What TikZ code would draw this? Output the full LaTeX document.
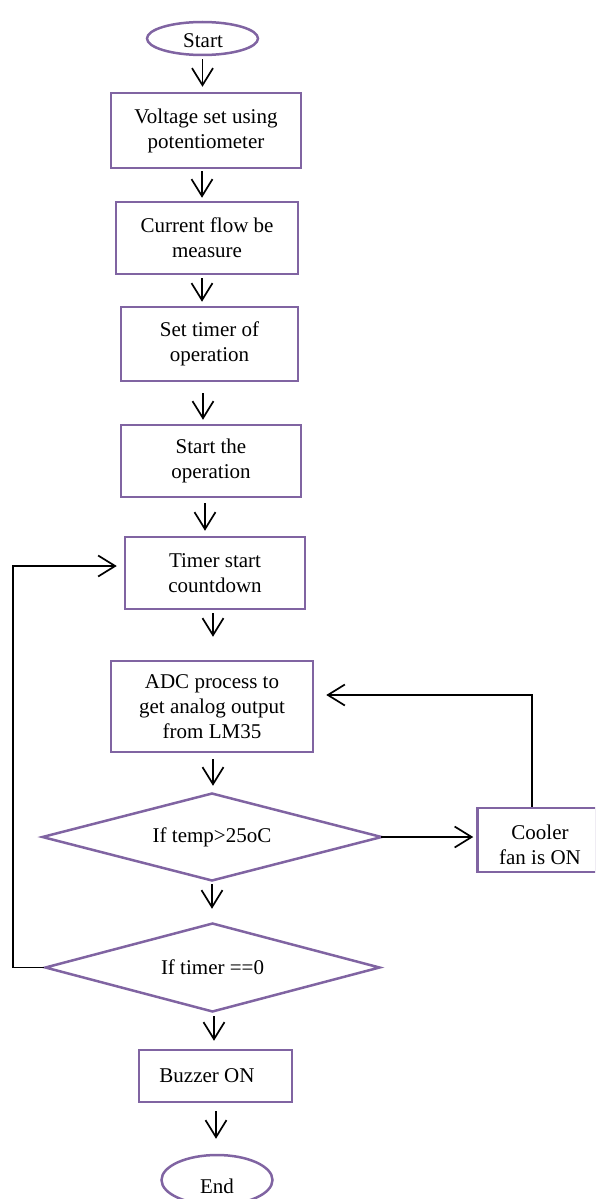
\documentclass[tikz,border=0pt]{standalone}
\usepackage{fontspec}
\setmainfont{Liberation Serif}
\usetikzlibrary{arrows.meta,shapes.geometric,calc}
\definecolor{fpurple}{HTML}{8064A2}
\begin{document}
\begin{tikzpicture}[x=1pt,y=1pt,
  every node/.style={font=\fontsize{21}{25}\selectfont, align=center, inner sep=0pt},
  boxx/.style={draw=fpurple, line width=2.5pt, rectangle},
  ovall/.style={draw=fpurple, line width=2.5pt, ellipse},
  decis/.style={draw=fpurple, line width=2.5pt, diamond},
  arr/.style={draw=black, line width=1.7pt, -{Straight Barb[length=17pt,width=21pt,line width=1.7pt]}}]
\clip (0,0) rectangle (595,-1199);
\useasboundingbox (0,0) rectangle (595,-1199);

\node[ovall, minimum width=111pt, minimum height=33pt] (start) at (202.5,-38.5) {};
\node at (203,-41) {Start};
\node[boxx, minimum width=190pt, minimum height=75pt] (b1) at (206,-130.5) {Voltage set using\\potentiometer};
\node[boxx, minimum width=182pt, minimum height=72pt] (b2) at (207,-238) {Current flow be\\measure};
\node[boxx, minimum width=177pt, minimum height=74pt] (b3) at (209.5,-344) {Set timer of\\operation};
\node[boxx, minimum width=180pt, minimum height=72pt] (b4) at (211,-461) {Start the\\operation};
\node[boxx, minimum width=180pt, minimum height=72pt] (b5) at (215,-573) {Timer start\\countdown};
\node[boxx, minimum width=202pt, minimum height=91pt] (b6) at (212,-706.5) {ADC process to\\get analog output\\from LM35};
\node[decis, minimum width=340pt, minimum height=88pt] (d1) at (212,-837) {};
\node at (212,-837) {If temp>25oC};
\node[boxx, minimum width=119pt, minimum height=64pt] (cool) at (537,-840) {};
\node at (540,-845) {Cooler\\fan is ON};
\node[decis, minimum width=335pt, minimum height=89pt] (d2) at (212.5,-967.5) {};
\node at (212.5,-967.5) {If timer ==0};
\node[boxx, minimum width=153pt, minimum height=52pt] (buzz) at (215.5,-1076) {};
\node at (207,-1076) {Buzzer ON};
\node[ovall, minimum width=111pt, minimum height=50pt] (endn) at (217,-1180) {};
\node at (217,-1186) {End};

\draw[arr] ([yshift=-3pt]start.south) -- ([yshift=5pt]start.south |- b1.north);
\draw[arr] ([xshift=-4pt,yshift=-2pt]b1.south) -- ([xshift=-4pt,yshift=3pt]b1.south |- b2.north);
\draw[arr] ([xshift=-5pt,yshift=-3pt]b2.south) -- ([xshift=-5pt,yshift=4pt]b2.south |- b3.north);
\draw[arr] ([xshift=-6.5pt,yshift=-11pt]b3.south) -- ([xshift=-6.5pt,yshift=4pt]b3.south |- b4.north);
\draw[arr] ([xshift=-6pt,yshift=-5pt]b4.south) -- ([xshift=-6pt,yshift=5pt]b4.south |- b5.north);
\draw[arr] ([xshift=-2pt,yshift=-3pt]b5.south) -- ([xshift=-2pt,yshift=23pt]b5.south |- b6.north);
\draw[arr] ([xshift=1pt,yshift=-6pt]b6.south) -- ([xshift=1pt,yshift=6pt]b6.south |- d1.north);
\draw[arr] ([yshift=-2pt]d1.south) -- ([yshift=13pt]d1.south |- d2.north);
\draw[arr] ([xshift=1.5pt,yshift=-3pt]d2.south) -- ([xshift=1.5pt,yshift=8pt]d2.south |- buzz.north);
\draw[arr] ([xshift=0.5pt,yshift=-8pt]buzz.south) -- ([xshift=0.5pt,yshift=15pt]buzz.south |- endn.north);

\draw[arr] ([xshift=-2pt]d1.east) -- ([xshift=-3pt]cool.west |- d1.east);
\draw[arr] ([xshift=-5pt]cool.north) |- ([xshift=12pt,yshift=11.5pt]b6.east);
\draw[arr] (d2.west) -- ++(-31,0) |- ([xshift=-7pt,yshift=7pt]b5.west);
\end{tikzpicture}
\end{document}
